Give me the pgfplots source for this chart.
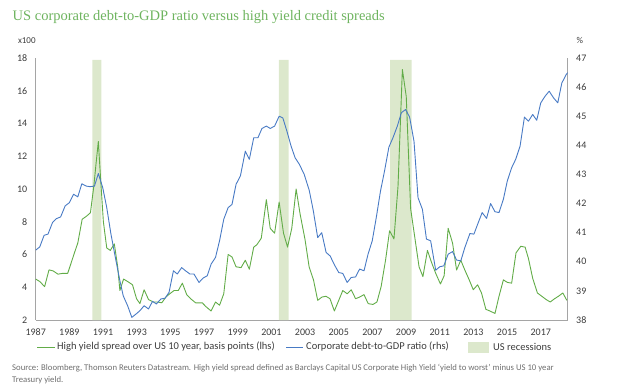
\documentclass[border=0pt]{standalone}
\usepackage{pgfplots}
\pgfplotsset{compat=1.18}
\usepackage{fontspec}
\setmainfont{Carlito}
\newfontfamily\titlefont{Liberation Serif}
\definecolor{hygreen}{RGB}{98,172,72}
\definecolor{debtblue}{RGB}{72,122,196}
\definecolor{recess}{RGB}{220,232,204}
\definecolor{titlegreen}{RGB}{110,180,95}
\definecolor{axisgray}{RGB}{165,165,165}
\definecolor{labelgray}{RGB}{60,60,60}
\definecolor{sourcegray}{RGB}{110,110,110}
\begin{document}
\begin{tikzpicture}
\useasboundingbox (0pt,0pt) rectangle (624pt,389pt);
\node[anchor=base west, inner sep=0, text=titlegreen, font=\titlefont\fontsize{14.5}{17}\selectfont] at (12.5pt,368.5pt) {US corporate debt-to-GDP ratio versus high yield credit spreads};
\node[anchor=base west, inner sep=0, text=labelgray, font=\fontsize{9}{11}\selectfont] at (17.8pt,345.7pt) {x100};
\node[anchor=base west, inner sep=0, text=labelgray, font=\fontsize{9}{11}\selectfont] at (576.5pt,345.7pt) {\%};
\node[anchor=base west, inner sep=0, text=sourcegray, align=left, font=\fontsize{8.7}{12}\selectfont] at (12pt,6.5pt) {Source: Bloomberg, Thomson Reuters Datastream. High yield spread defined as Barclays Capital US Corporate High Yield `yield to worst' minus US 10 year\\Treasury yield.};
% legend
\draw[hygreen, line width=0.9pt] (37pt,42pt) -- (55pt,42pt);
\node[anchor=west, inner sep=0, text=labelgray, font=\fontsize{10.5}{12}\selectfont] at (57pt,42pt) {High yield spread over US 10 year, basis points (lhs)};
\draw[debtblue, line width=0.9pt] (286pt,42pt) -- (303pt,42pt);
\node[anchor=west, inner sep=0, text=labelgray, font=\fontsize{10.5}{12}\selectfont] at (306pt,42pt) {Corporate debt-to-GDP ratio (rhs)};
\fill[recess] (468pt,36.5pt) rectangle (489pt,47.5pt);
\node[anchor=west, inner sep=0, text=labelgray, font=\fontsize{10.5}{12}\selectfont] at (493pt,42pt) {US recessions};
\pgfplotsset{
  common/.style={
    at={(35.7pt,69pt)}, anchor=south west, scale only axis,
    width=532pt, height=262pt,
    xmin=1987, xmax=2018.6,
    axis line style={axisgray, line width=0.8pt},
    tick style={draw=none},
    tick label style={font=\fontsize{10}{12}\selectfont, text=labelgray},
    /pgf/number format/assume math mode=true,
    /pgf/number format/1000 sep={},
  }
}
\begin{axis}[common,
  ymin=2, ymax=18,
  axis y line*=left, axis x line*=bottom,
  xtick={1987,1989,1991,1993,1995,1997,1999,2001,2003,2005,2007,2009,2011,2013,2015,2017},
  ytick={2,4,6,8,10,12,14,16,18},
  xticklabel style={yshift=-5.4pt},
  yticklabel style={xshift=-5pt},
]
\addplot[draw=none, fill=recess] coordinates {(1990.37,2) (1990.37,17.88) (1990.90,17.88) (1990.90,2)} \closedcycle;
\addplot[draw=none, fill=recess] coordinates {(2001.45,2) (2001.45,17.88) (2002.02,17.88) (2002.02,2)} \closedcycle;
\addplot[draw=none, fill=recess] coordinates {(2008.05,2) (2008.05,17.88) (2009.33,17.88) (2009.33,2)} \closedcycle;
\addplot[color=hygreen, line width=0.9pt, line join=round] coordinates {
(1987.0,4.5) (1987.24,4.35) (1987.53,4.04) (1987.79,5.06) (1988.03,5.0) (1988.32,4.8) (1988.62,4.85) (1988.9,4.85)
(1989.03,5.25) (1989.3,6.1) (1989.5,6.7) (1989.76,8.15) (1990.03,8.35) (1990.25,8.55) (1990.45,10.15) (1990.59,11.6)
(1990.72,12.9) (1990.86,10.55) (1991.02,8.0) (1991.22,6.4) (1991.43,6.25) (1991.67,6.65) (1991.87,5.25) (1992.0,3.8)
(1992.22,4.5) (1992.46,4.35) (1992.75,4.15) (1992.99,3.3) (1993.19,3.0) (1993.44,3.85) (1993.7,3.25) (1993.98,3.1)
(1994.23,3.1) (1994.49,3.05) (1994.73,3.4) (1994.96,3.6) (1995.22,3.8) (1995.47,3.8) (1995.71,4.25) (1995.97,3.55)
(1996.2,3.3) (1996.5,3.05) (1996.89,3.05) (1997.13,2.8) (1997.42,2.55) (1997.68,3.1) (1997.92,2.9) (1998.17,3.6)
(1998.43,6.0) (1998.66,5.85) (1998.9,5.25) (1999.2,5.2) (1999.45,5.65) (1999.69,5.1) (1999.95,6.45) (2000.14,6.6)
(2000.4,7.0) (2000.7,9.35) (2000.93,7.6) (2001.19,7.3) (2001.46,9.2) (2001.72,7.3) (2001.96,6.45) (2002.21,7.6)
(2002.47,10.0) (2002.7,8.5) (2003.0,6.9) (2003.24,5.25) (2003.5,4.45) (2003.75,3.2) (2004.0,3.4) (2004.24,3.45)
(2004.48,3.3) (2004.74,2.55) (2005.0,3.2) (2005.24,3.8) (2005.5,3.6) (2005.74,3.85) (2006.0,3.3) (2006.24,3.4)
(2006.5,3.55) (2006.75,3.0) (2007.03,2.95) (2007.27,3.1) (2007.52,4.05) (2007.78,5.65) (2008.02,7.45) (2008.28,6.95)
(2008.52,10.15) (2008.78,17.3) (2009.01,15.65) (2009.27,8.8) (2009.51,7.1) (2009.77,5.25) (2010.0,4.65) (2010.27,6.25)
(2010.5,5.55) (2010.76,4.85) (2011.04,4.2) (2011.26,4.7) (2011.5,7.6) (2011.76,6.7) (2012.0,5.05) (2012.25,5.65)
(2012.49,5.05) (2012.75,4.45) (2012.99,3.85) (2013.25,4.15) (2013.48,3.65) (2013.74,2.65) (2013.98,2.55) (2014.28,2.4)
(2014.52,3.45) (2014.78,4.45) (2015.01,4.3) (2015.27,4.25) (2015.53,6.1) (2015.81,6.5) (2016.07,6.45) (2016.27,5.75)
(2016.52,4.55) (2016.8,3.65) (2017.06,3.45) (2017.32,3.25) (2017.56,3.1) (2017.82,3.3) (2018.05,3.45) (2018.31,3.65)
(2018.55,3.2)
};
\end{axis}
\begin{axis}[common,
  ymin=38, ymax=47,
  axis y line*=right, axis x line=none,
  ytick={38,39,40,41,42,43,44,45,46,47},
  yticklabel style={xshift=5pt},
]
\addplot[color=debtblue, line width=0.9pt, line join=round] coordinates {
(1987.0,40.4) (1987.24,40.51) (1987.5,40.91) (1987.73,40.95) (1988.0,41.35) (1988.22,41.48) (1988.48,41.54) (1988.75,41.92)
(1989.0,42.03) (1989.25,42.32) (1989.5,42.23) (1989.74,42.68) (1990.0,42.6) (1990.23,42.58) (1990.49,42.6) (1990.72,43.03)
(1990.98,42.55) (1991.22,41.86) (1991.47,40.95) (1991.73,40.15) (1992.0,39.35) (1992.2,38.83) (1992.46,38.49) (1992.71,38.09)
(1992.95,38.2) (1993.19,38.32) (1993.44,38.49) (1993.7,38.38) (1993.94,38.64) (1994.17,38.55) (1994.43,38.72) (1994.69,38.75)
(1994.92,38.95) (1995.18,39.69) (1995.41,39.58) (1995.67,39.8) (1995.9,39.69) (1996.16,39.58) (1996.4,39.58) (1996.7,39.29)
(1996.94,39.44) (1997.19,39.52) (1997.42,39.92) (1997.68,40.15) (1997.92,40.72) (1998.17,41.46) (1998.43,41.86) (1998.66,41.97)
(1998.9,42.66) (1999.16,42.95) (1999.45,43.8) (1999.69,43.52) (1999.95,44.26) (2000.2,44.26) (2000.44,44.58) (2000.7,44.66)
(2000.93,44.58) (2001.19,44.66) (2001.46,45.0) (2001.68,44.94) (2001.92,44.49) (2002.17,43.97) (2002.41,43.57) (2002.66,43.35)
(2002.95,43.0) (2003.25,42.45) (2003.49,41.75) (2003.75,40.83) (2003.99,41.0) (2004.25,40.32) (2004.49,40.2) (2004.74,39.9)
(2005.0,39.63) (2005.24,39.6) (2005.5,39.29) (2005.74,39.46) (2006.0,39.48) (2006.24,39.75) (2006.5,39.69) (2006.74,40.26)
(2006.99,40.72) (2007.23,41.52) (2007.48,42.43) (2007.72,43.12) (2007.98,43.94) (2008.22,44.26) (2008.48,44.66) (2008.72,45.12)
(2008.97,45.23) (2009.21,44.97) (2009.47,44.14) (2009.71,42.2) (2009.97,41.8) (2010.21,40.78) (2010.46,40.72) (2010.76,39.71)
(2011.0,39.83) (2011.24,39.86) (2011.5,40.26) (2011.76,40.35) (2012.0,40.06) (2012.25,40.03) (2012.49,40.49) (2012.79,40.97)
(2013.03,40.95) (2013.29,41.35) (2013.52,41.69) (2013.78,41.49) (2014.02,42.0) (2014.28,41.72) (2014.52,41.69) (2014.78,42.15)
(2015.01,42.77) (2015.27,43.23) (2015.51,43.52) (2015.77,43.97) (2016.03,44.97) (2016.27,44.83) (2016.52,45.06) (2016.76,44.86)
(2017.0,45.46) (2017.26,45.69) (2017.5,45.86) (2017.76,45.63) (2018.01,45.46) (2018.25,46.14) (2018.51,46.43) (2018.6,46.5)
};
\end{axis}
\end{tikzpicture}
\end{document}
